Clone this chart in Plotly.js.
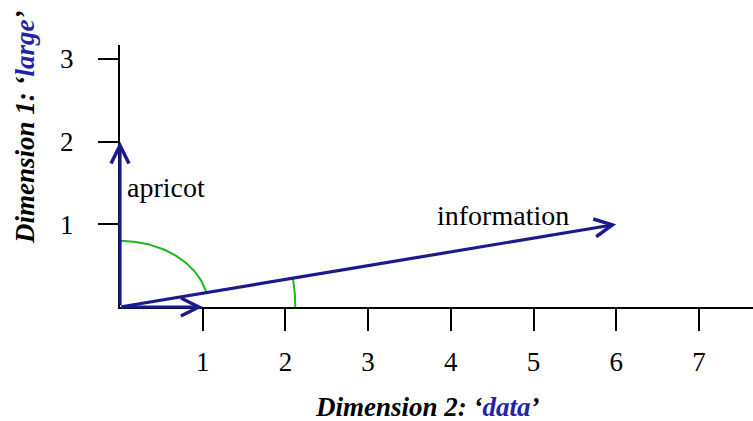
<!DOCTYPE html>
<html>
<head>
<meta charset="utf-8">
<script src="https://cdn.plot.ly/plotly-3.0.1.min.js"></script>
<style>html,body{margin:0;padding:0;background:#fff;}#chart{width:753px;height:421px;}</style>
</head>
<body>
<div id="chart"></div>
<script>
// ---- data ----
const words = ["apricot", "digital", "information"];
const dim2 = [0, 1, 6];   // x: Dimension 2 ('data')
const dim1 = [2, 0, 1];   // y: Dimension 1 ('large')
const xTicks = [1, 2, 3, 4, 5, 6, 7];
const yTicks = [1, 2, 3];
// angle arcs: from vector index -> to vector index, with radii (x, y)
const arcFrom = [0, 2];
const arcTo = [2, 1];
const arcRx = [1.07, 2.12];
const arcRy = [0.80, 2.12];

const FONT = '"Liberation Serif", "Times New Roman", serif';
const NAVY = '#1a1a8e';
const TITLEBLUE = '#2323a3';
const GREEN = '#22b422';

// arcs as traces
const traces = [];
for (let k = 0; k < arcFrom.length; k++) {
  const a = arcRx[k], b = arcRy[k];
  const th0 = Math.atan2(dim1[arcFrom[k]], dim2[arcFrom[k]]);
  const th1 = Math.atan2(dim1[arcTo[k]], dim2[arcTo[k]]);
  const t0 = Math.atan2(a * Math.sin(th0), b * Math.cos(th0));
  const t1 = Math.atan2(a * Math.sin(th1), b * Math.cos(th1));
  const xs = [], ys = [];
  const n = 60;
  for (let i = 0; i <= n; i++) {
    const t = t0 + (t1 - t0) * i / n;
    xs.push(a * Math.cos(t));
    ys.push(b * Math.sin(t));
  }
  traces.push({type: 'scatter', mode: 'lines', x: xs, y: ys,
    line: {color: GREEN, width: 2}, hoverinfo: 'skip', showlegend: false});
}

// vectors as annotation arrows
const annotations = [];
for (let i = 0; i < words.length; i++) {
  annotations.push({
    x: dim2[i], y: dim1[i], xref: 'x', yref: 'y',
    ax: 0, ay: 0, axref: 'x', ayref: 'y',
    text: '', showarrow: true,
    arrowhead: 5, arrowsize: 1.1, arrowwidth: 3.2, arrowcolor: NAVY,
    standoff: 0
  });
}
// word labels
const labelPos = {
  apricot: {x: 0.06, y: 1.44, xanchor: 'left'},
  digital: {x: 0.33, y: -0.27, xanchor: 'center'},
  information: {x: 4.63, y: 1.11, xanchor: 'center'}
};
for (let i = 0; i < words.length; i++) {
  const p = labelPos[words[i]];
  annotations.push({x: p.x, y: p.y, xref: 'x', yref: 'y', text: words[i],
    showarrow: false, xanchor: p.xanchor, yanchor: 'middle',
    font: {family: FONT, size: 28, color: '#000'}});
}
// axis titles
annotations.push({xref: 'paper', yref: 'paper', x: 0.485, y: -0.38,
  text: "<b><i>Dimension 2: ‘<span style='color:" + TITLEBLUE + "'>data</span>’</i></b>",
  showarrow: false, xanchor: 'center', yanchor: 'middle',
  font: {family: FONT, size: 27, color: '#000'}});
annotations.push({xref: 'paper', yref: 'paper', x: -0.15, y: 0.687,
  text: "<b><i>Dimension 1: ‘<span style='color:" + TITLEBLUE + "'>large</span>’</i></b>",
  showarrow: false, textangle: -90, xanchor: 'center', yanchor: 'middle',
  font: {family: FONT, size: 27, color: '#000'}});

const layout = {
  width: 753, height: 421,
  margin: {l: 120, r: 0, t: 45, b: 114, pad: 0},
  paper_bgcolor: '#fff', plot_bgcolor: '#fff',
  showlegend: false,
  font: {family: FONT, size: 27, color: '#000'},
  xaxis: {range: [0, 7.654], showgrid: false, zeroline: false,
    showline: true, linecolor: '#000', linewidth: 2,
    ticks: 'outside', ticklen: 22, tickwidth: 2, tickcolor: '#000',
    tickvals: xTicks, ticktext: xTicks.map(String), ticklabelstandoff: 8,
    tickfont: {family: FONT, size: 27, color: '#000'}, fixedrange: true},
  yaxis: {range: [0, 3.168], showgrid: false, zeroline: false,
    showline: true, linecolor: '#000', linewidth: 2,
    ticks: 'outside', ticklen: 20, tickwidth: 2, tickcolor: '#000',
    tickvals: yTicks, ticktext: yTicks.map(String), ticklabelstandoff: 19,
    tickfont: {family: FONT, size: 27, color: '#000'}, fixedrange: true},
  annotations: annotations
};

Plotly.newPlot('chart', traces, layout, {staticPlot: true, displayModeBar: false});
</script>
</body>
</html>
